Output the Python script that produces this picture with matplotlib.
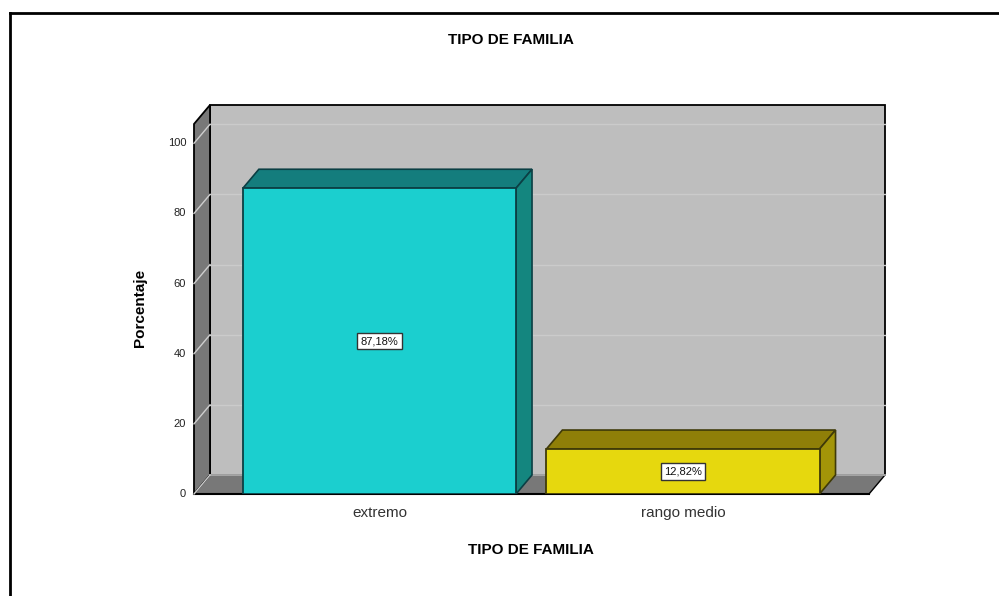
import matplotlib
matplotlib.use("Agg")
import matplotlib.pyplot as plt
from matplotlib.patches import Polygon, Rectangle

categories = ["extremo", "rango medio"]
percentages = [87.18, 12.82]
value_labels = ["87,18%", "12,82%"]
y_ticks = [0, 20, 40, 60, 80, 100]
bar_colors = ["#1bcfcf", "#e6d80e"]
top_colors = ["#147d7d", "#8f7f08"]
side_colors = ["#14867f", "#a39508"]
edge_colors = ["#0b3f44", "#3f3a08"]

plt.rcParams["font.family"] = ["Liberation Sans", "DejaVu Sans"]

W, H = 999, 596
fig = plt.figure(figsize=(W / 100, H / 100), dpi=100)
fig.patch.set_facecolor("white")

# axes = front plane of the fake 3d box, in pixels
left, right, bottom, top = 194, 869, 494, 124
ax = fig.add_axes([left / W, 1 - bottom / H, (right - left) / W, (bottom - top) / H])
ax.set_xlim(-0.611, 1.613)
ax.set_ylim(0, 105.5)
ax.axis("off")

# depth of the box in data units (16 px right, 19 px up)
dx = 16 / 303.5
dy = 19 / 3.507
x0, x1 = ax.get_xlim()
y0, y1 = ax.get_ylim()

ax.add_patch(Rectangle((x0 + dx, y0 + dy), x1 - x0, y1 - y0, fc="#bebebe", ec="black", lw=1.3, clip_on=False, zorder=1))
ax.add_patch(Polygon([(x0, y0), (x0 + dx, y0 + dy), (x0 + dx, y1 + dy), (x0, y1)], fc="#787878", ec="black", lw=1.3, clip_on=False, zorder=2))
ax.add_patch(Polygon([(x0, y0), (x0 + dx, y0 + dy), (x1 + dx, y0 + dy), (x1, y0)], fc="#787878", ec="black", lw=1.0, clip_on=False, zorder=2))
ax.plot([x0 + dx, x1 + dx], [y0 + dy, y0 + dy], color="#bebebe", lw=1.2, clip_on=False, zorder=2)
ax.plot([x0, x1], [y0, y0], color="black", lw=1.5, clip_on=False, zorder=3)

for t in y_ticks:
    if t > 0:
        ax.plot([x0 + dx, x1 + dx], [t + dy, t + dy], color="#cbcbcb", lw=1, clip_on=False, zorder=2)
    ax.plot([x0, x0 + dx], [t, t + dy], color="#cfcfcf", lw=1, clip_on=False, zorder=3)
    ax.text(x0 - 0.026, t, str(t), ha="right", va="center", fontsize=8, color="#222222", clip_on=False)

width = 0.9
for i, v in enumerate(percentages):
    a, b = i - width / 2, i + width / 2
    ec = edge_colors[i]
    ax.add_patch(Polygon([(a, v), (a + dx, v + dy), (b + dx, v + dy), (b, v)], fc=top_colors[i], ec=ec, lw=1.2, zorder=4))
    ax.add_patch(Polygon([(b, 0), (b + dx, dy), (b + dx, v + dy), (b, v)], fc=side_colors[i], ec=ec, lw=1.2, zorder=4))
    ax.add_patch(Rectangle((a, 0), width, v, fc=bar_colors[i], ec=ec, lw=1.3, zorder=5))
    ax.text(i, v / 2, value_labels[i], ha="center", va="center", fontsize=8, color="#111111", zorder=6,
            bbox=dict(boxstyle="square,pad=0.3", fc="white", ec="#333333", lw=1))
    ax.text(i, -5.3, categories[i], ha="center", va="center", fontsize=11, color="#333333", clip_on=False)

fig.text(511 / W, 1 - 40 / H, "TIPO DE FAMILIA", ha="center", va="center", fontsize=11, fontweight="bold")
fig.text(531 / W, 1 - 550 / H, "TIPO DE FAMILIA", ha="center", va="center", fontsize=11, fontweight="bold")
fig.text(140 / W, 1 - 308 / H, "Porcentaje", ha="center", va="center", rotation=90, fontsize=11, fontweight="bold")

# outer frame of the pasted image
frame = dict(color="black", lw=2, transform=fig.transFigure, clip_on=False)
fig.add_artist(plt.Line2D([10 / W, 1], [1 - 13 / H, 1 - 13 / H], **frame))
fig.add_artist(plt.Line2D([10 / W, 10 / W], [1 - 13 / H, 0], **frame))

fig.savefig("out.png", dpi=100)
